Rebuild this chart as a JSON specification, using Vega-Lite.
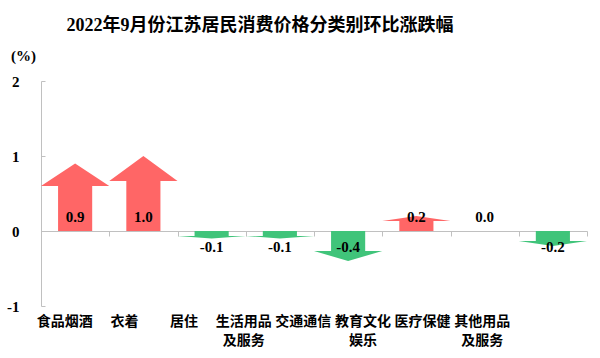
{
  "$schema": "https://vega.github.io/schema/vega-lite/v6.json",
  "width": 546,
  "height": 225,
  "autosize": {"type": "none"},
  "padding": {"left": 41, "top": 81, "right": 13, "bottom": 52},
  "background": "white",
  "title": {
    "text": "2022年9月份江苏居民消费价格分类别环比涨跌幅",
    "font": "Liberation Serif, Noto Sans CJK SC",
    "fontSize": 18,
    "fontWeight": "bold",
    "color": "black",
    "anchor": "middle",
    "frame": "group",
    "dx": -54,
    "offset": 13
  },
  "config": {
    "view": {"stroke": null},
    "locale": {"number": {"decimal": ".", "thousands": ",", "grouping": [3], "currency": ["", ""], "minus": "-"}}
  },
  "data": {
    "values": [
      {"cat": "食品烟酒", "value": 0.9},
      {"cat": "衣着", "value": 1.0},
      {"cat": "居住", "value": -0.1},
      {"cat": "生活用品\n及服务", "value": -0.1},
      {"cat": "交通通信", "value": -0.4},
      {"cat": "教育文化\n娱乐", "value": 0.2},
      {"cat": "医疗保健", "value": 0.0},
      {"cat": "其他用品\n及服务", "value": -0.2}
    ]
  },
  "layer": [
    {
      "encoding": {
        "x": {
          "field": "cat",
          "type": "nominal",
          "sort": null,
          "scale": {"paddingInner": 0, "paddingOuter": 0},
          "axis": {
            "orient": "bottom",
            "offset": -75,
            "labels": false,
            "title": null,
            "domainColor": "#c0c0c0",
            "tickColor": "#c0c0c0",
            "tickSize": 5,
            "tickBand": "extent"
          }
        }
      },
      "layer": [
        {
          "transform": [{"calculate": "datum.value * 2 / 3", "as": "base"}],
          "mark": {"type": "bar", "width": {"band": 0.5}},
          "encoding": {
            "y": {
              "field": "base",
              "type": "quantitative",
              "scale": {"domain": [-1, 2], "nice": false, "zero": false},
              "axis": {
                "values": [-1, 0, 1, 2],
                "format": "d",
                "grid": false,
                "title": "(%)",
                "titleAngle": 0,
                "titleX": -18,
                "titleY": -26,
                "titleAlign": "center",
                "titleBaseline": "middle",
                "titleFont": "Liberation Serif",
                "titleFontSize": 15,
                "titleFontWeight": "bold",
                "titleColor": "black",
                "labelFont": "Liberation Serif",
                "labelFontSize": 15,
                "labelFontWeight": "bold",
                "labelColor": "black",
                "labelPadding": 26,
                "domainColor": "#c0c0c0",
                "tickColor": "#c0c0c0",
                "tickSize": -4
              }
            },
            "y2": {"datum": 0},
            "color": {"condition": {"test": "datum.value >= 0", "value": "#FF6666"}, "value": "#40C47A"}
          }
        }
      ]
    },
    {
      "transform": [
        {"window": [{"op": "row_number", "as": "idx"}]},
        {"filter": "datum.value >= 0"},
        {"calculate": "datum.value * 2 / 3", "as": "base"},
        {"calculate": "0", "as": "l"},
        {"calculate": "0.5", "as": "m"},
        {"calculate": "1", "as": "r"},
        {"fold": ["l", "m", "r"], "as": ["side", "frac"]},
        {"calculate": "datum.idx - 1 + datum.frac", "as": "hx"},
        {"calculate": "datum.side === 'm' ? datum.value : datum.base", "as": "hy"}
      ],
      "mark": {"type": "area", "color": "#FF6666", "opacity": 1},
      "encoding": {
        "x": {"field": "hx", "type": "quantitative", "scale": {"domain": [0, 8], "nice": false, "zero": false}, "axis": null},
        "y": {"field": "hy", "type": "quantitative"},
        "y2": {"field": "base"}
      }
    },
    {
      "transform": [
        {"window": [{"op": "row_number", "as": "idx"}]},
        {"filter": "datum.value < 0"},
        {"calculate": "datum.value * 2 / 3", "as": "base"},
        {"calculate": "0", "as": "l"},
        {"calculate": "0.5", "as": "m"},
        {"calculate": "1", "as": "r"},
        {"fold": ["l", "m", "r"], "as": ["side", "frac"]},
        {"calculate": "datum.idx - 1 + datum.frac", "as": "hx"},
        {"calculate": "datum.side === 'm' ? datum.value : datum.base", "as": "hy"}
      ],
      "mark": {"type": "area", "color": "#40C47A", "opacity": 1},
      "encoding": {
        "x": {"field": "hx", "type": "quantitative", "scale": {"domain": [0, 8], "nice": false, "zero": false}, "axis": null},
        "y": {"field": "hy", "type": "quantitative"},
        "y2": {"field": "base"}
      }
    },
    {
      "transform": [{"filter": "datum.value >= 0"}],
      "mark": {"type": "text", "baseline": "middle", "dy": -14, "font": "Liberation Serif", "fontSize": 15, "fontWeight": "bold", "color": "black"},
      "encoding": {
        "x": {"field": "cat", "type": "nominal", "sort": null, "scale": {"domain": ["食品烟酒", "衣着", "居住", "生活用品\n及服务", "交通通信", "教育文化\n娱乐", "医疗保健", "其他用品\n及服务"], "paddingInner": 0, "paddingOuter": 0}, "axis": null},
        "y": {"datum": 0},
        "text": {"field": "value", "type": "quantitative", "format": ".1f"}
      }
    },
    {
      "transform": [{"filter": "datum.value < 0"}],
      "mark": {"type": "text", "baseline": "middle", "dy": 16, "font": "Liberation Serif", "fontSize": 15, "fontWeight": "bold", "color": "black"},
      "encoding": {
        "x": {"field": "cat", "type": "nominal", "sort": null, "scale": {"domain": ["食品烟酒", "衣着", "居住", "生活用品\n及服务", "交通通信", "教育文化\n娱乐", "医疗保健", "其他用品\n及服务"], "paddingInner": 0, "paddingOuter": 0}, "axis": null},
        "y": {"datum": 0},
        "text": {"field": "value", "type": "quantitative", "format": ".1f"}
      }
    },
    {
      "mark": {"type": "text", "baseline": "top", "dy": 9, "lineBreak": "\n", "lineHeight": 19, "font": "Noto Sans CJK SC", "fontSize": 14, "fontWeight": "bold", "color": "black"},
      "encoding": {
        "x": {"field": "cat", "type": "nominal", "sort": null, "scale": {"range": [-6, 471], "paddingInner": 0, "paddingOuter": 0}, "axis": null},
        "y": {"datum": -1},
        "text": {"field": "cat"}
      }
    }
  ],
  "resolve": {"scale": {"x": "independent"}, "axis": {"x": "independent"}}
}
